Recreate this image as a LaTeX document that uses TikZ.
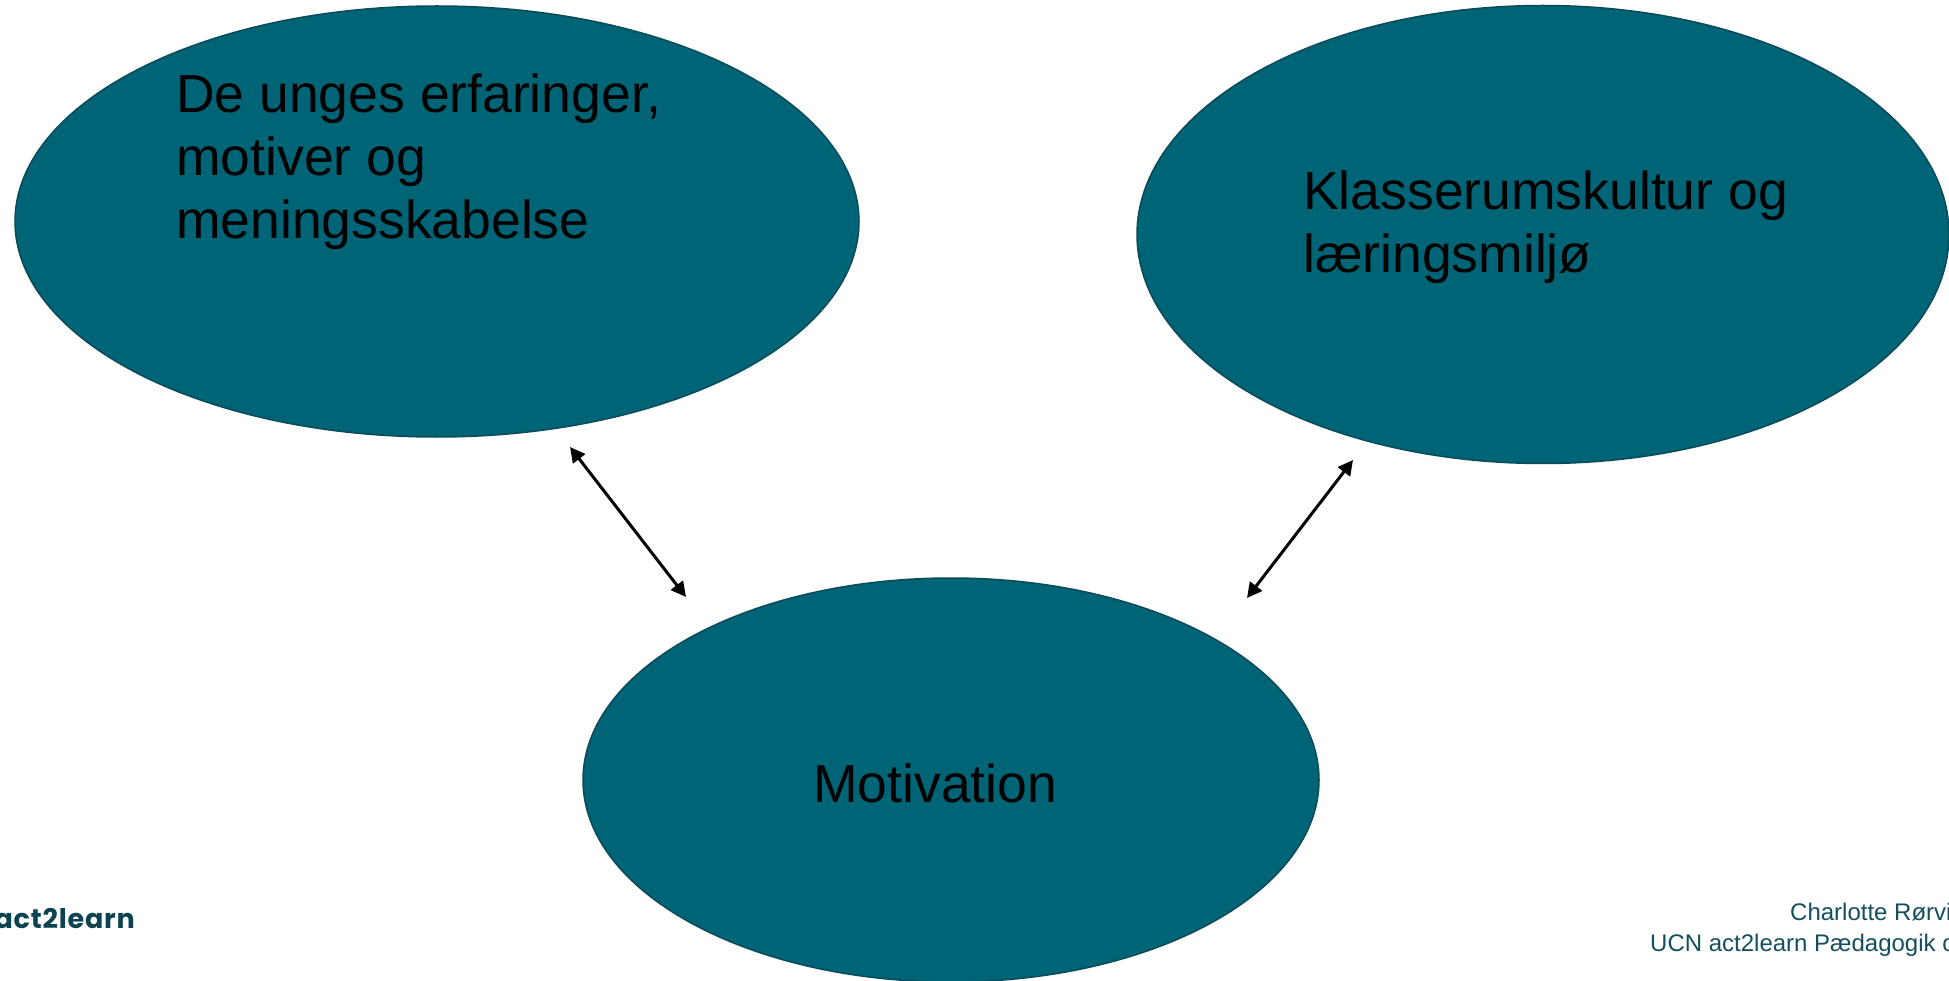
\documentclass[tikz,border=0pt]{standalone}
\usepackage{fontspec}
\setmainfont{Liberation Sans}
\newfontfamily\logofont{Poppins}[LetterSpace=3]
\usetikzlibrary{shapes.geometric,arrows.meta}
\definecolor{ellfill}{HTML}{006477}
\definecolor{elldraw}{HTML}{0B4A59}
\definecolor{footteal}{HTML}{134F5C}
\definecolor{logoteal}{HTML}{0C4350}
\tikzset{
  bubble/.style={ellipse, fill=ellfill, draw=elldraw, line width=1.5pt, inner sep=0pt},
  bigtext/.style={anchor=base west, inner sep=0pt, font=\fontsize{53.5}{63}\selectfont, text=black},
  foot/.style={anchor=base west, inner sep=0pt, font=\fontsize{24}{28}\selectfont, text=footteal},
  link/.style={line width=3pt, {Triangle[length=15pt,width=15pt]}-{Triangle[length=15pt,width=15pt]}},
}
\begin{document}
\begin{tikzpicture}[x=1pt,y=-1pt]
\useasboundingbox (0,0) rectangle (1949,981);
\fill[white] (0,0) rectangle (1949,981);
\node[bubble, minimum width=844pt, minimum height=431pt] (left) at (437,221.5) {};
\node[bubble, minimum width=812pt, minimum height=458pt] (right) at (1543,234.5) {};
\node[bubble, minimum width=736pt, minimum height=404pt] (mot) at (951,780) {};
\node[bigtext] (l1) at (176,113) {De unges erfaringer,};
\node[bigtext] (l2) at (176,176) {motiver og};
\node[bigtext] (l3) at (176,239) {meningsskabelse};
\node[bigtext] (r1) at (1303,210) {Klasserumskultur og};
\node[bigtext] (r2) at (1303,273) {læringsmiljø};
\node[bigtext] (m1) at (813,802) {Motivation};
\coordinate (a1s) at (570,447);
\coordinate (a1e) at (686,597);
\coordinate (a2s) at (1353,460);
\coordinate (a2e) at (1247,598);
\draw[link] (a1s) -- (a1e);
\draw[link] (a2s) -- (a2e);
\node[anchor=base east, inner sep=0pt, font=\logofont\bfseries\fontsize{27}{31}\selectfont, text=logoteal] (logo) at (135,928) {act2learn};
\node[foot] (f1) at (1790,920) {Charlotte Rørvi};
\node[foot] (f2) at (1650,951) {UCN act2learn Pædagogik o};
\end{tikzpicture}
\end{document}
